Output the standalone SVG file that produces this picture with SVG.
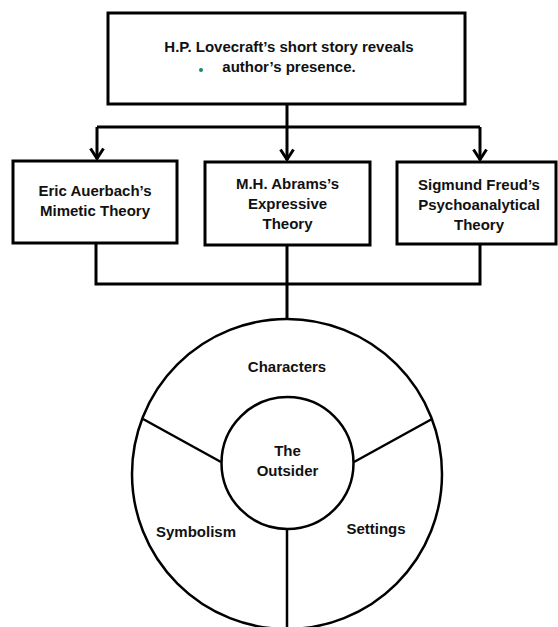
<svg xmlns="http://www.w3.org/2000/svg" width="558" height="627" viewBox="0 0 558 627">
<style>
.box{fill:#fff;stroke:#000;stroke-width:3}
.ln{fill:none;stroke:#000;stroke-width:3}
.c{fill:none;stroke:#000;stroke-width:2.5}
text{font-family:"Liberation Sans",Arial,sans-serif;font-weight:bold;font-size:15px;fill:#111;text-anchor:middle}
</style>
<defs>
<marker id="arr" viewBox="0 0 13 16" refX="12" refY="8" markerWidth="13" markerHeight="16" markerUnits="userSpaceOnUse" orient="auto" overflow="visible">
<path d="M1.5,1.5 L11.5,8 L1.5,14.5" fill="none" stroke="#000" stroke-width="3"/>
</marker>
</defs>
<rect width="558" height="627" fill="#fff"/>
<g id="connectors">
<path class="ln" d="M287,104 V127"/>
<path class="ln" d="M97,127 H480"/>
<path class="ln" d="M97,127 V159" marker-end="url(#arr)"/>
<path class="ln" d="M287,127 V160" marker-end="url(#arr)"/>
<path class="ln" d="M480,127 V160" marker-end="url(#arr)"/>
<path class="ln" d="M96,244 V284 H480 V244"/>
<path class="ln" d="M287,245 V320"/>
</g>
<g id="top">
<rect class="box" x="108" y="13" width="357" height="91"/>
<text x="289" y="52">H.P. Lovecraft’s short story reveals</text>
<text x="289" y="72">author’s presence.</text>
<circle cx="201" cy="70" r="2" fill="#1a8a5a"/>
</g>
<g id="auerbach">
<rect class="box" x="13" y="161" width="164" height="82"/>
<text x="95" y="196">Eric Auerbach’s</text>
<text x="95" y="216">Mimetic Theory</text>
</g>
<g id="abrams">
<rect class="box" x="205" y="162" width="165" height="83"/>
<text x="287.5" y="189">M.H. Abrams’s</text>
<text x="287.5" y="209">Expressive</text>
<text x="287.5" y="229">Theory</text>
</g>
<g id="freud">
<rect class="box" x="397" y="162" width="159" height="82"/>
<text x="479" y="190">Sigmund Freud’s</text>
<text x="479" y="210">Psychoanalytical</text>
<text x="479" y="230">Theory</text>
</g>
<g id="wheel">
<circle class="c" cx="287" cy="474" r="155"/>
<path class="c" d="M143,419 L221,462 M432,419 L354,462 M287,529 V627"/>
<circle class="c" cx="287.5" cy="463" r="66"/>
<text x="287" y="372">Characters</text>
<text x="287.5" y="456">The</text>
<text x="287.5" y="476">Outsider</text>
<text x="196" y="537">Symbolism</text>
<text x="376" y="534">Settings</text>
</g>
</svg>
